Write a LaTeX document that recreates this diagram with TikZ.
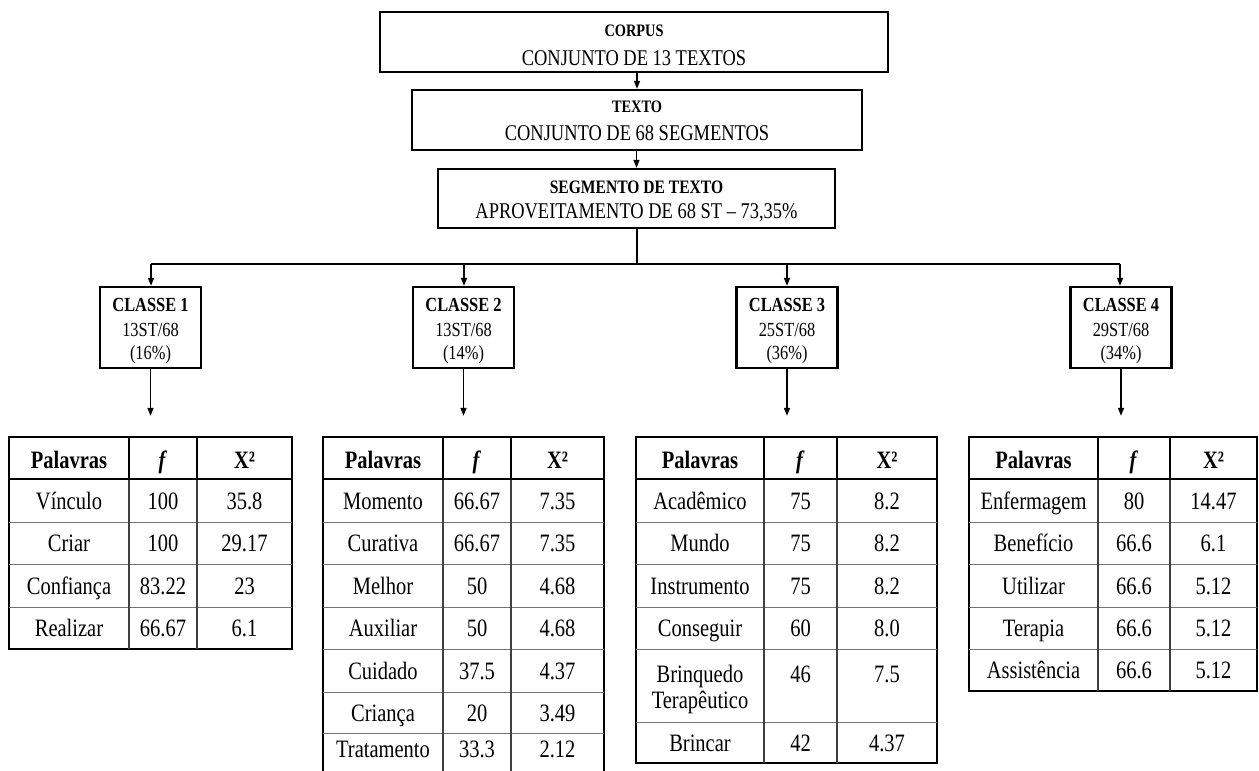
\documentclass[tikz,border=0pt]{standalone}
\usepackage{fontspec}
\setmainfont{Liberation Serif}[FakeStretch=0.82]
\usetikzlibrary{arrows.meta}
\begin{document}
\begin{tikzpicture}[x=1pt,y=-1pt,
  box/.style={draw,line width=2.3pt,inner sep=0pt},
  ttl/.style={anchor=base,inner sep=0pt,font=\fontsize{17.5}{20}\selectfont\bfseries},
  topsub/.style={anchor=base,inner sep=0pt,font=\fontsize{22.5}{26}\selectfont},
  clsttl/.style={anchor=base,inner sep=0pt,font=\fontsize{20}{24}\selectfont\bfseries},
  clsline/.style={anchor=base,inner sep=0pt,font=\fontsize{20}{24}\selectfont},
  cell/.style={anchor=base,inner sep=0pt,font=\fontsize{25}{28}\selectfont},
  hd/.style={anchor=base,inner sep=0pt,font=\fontsize{25}{28}\selectfont\bfseries},
  tab/.style={draw,line width=2.3pt,inner sep=0pt},
  colline/.style={line width=1.2pt,black!75},
  rowline/.style={line width=0.9pt,black!55},
  hdrline/.style={line width=2pt},
  conn/.style={line width=2pt},
  arr/.style={line width=1.5pt,-{Triangle[length=8pt,width=6pt]}},
]
\useasboundingbox (0,0) rectangle (1259,771);
\clip (0,0) rectangle (1259,771);

% ---------- top boxes ----------
\node[box,minimum width=508pt,minimum height=60pt] (corpus) at (634,42) {};
\node[ttl] (corpusA) at (634,36) {CORPUS};
\node[topsub] (corpusB) at (634,65) {CONJUNTO DE 13 TEXTOS};

\node[box,minimum width=450pt,minimum height=60pt] (texto) at (637,120) {};
\node[ttl] (textoA) at (637,112) {TEXTO};
\node[topsub] (textoB) at (637,140) {CONJUNTO DE 68 SEGMENTOS};

\node[box,minimum width=397pt,minimum height=59pt] (seg) at (636.5,198.5) {};
\node[ttl,font=\fontsize{19}{22}\selectfont\bfseries] (segA) at (636.5,193) {SEGMENTO DE TEXTO};
\node[topsub] (segB) at (636.5,218) {APROVEITAMENTO DE 68 ST -- 73,35\%};

\draw[arr] (corpus.south -| texto.north) -- (texto.north);
\draw[arr] (texto.south -| seg.north) -- (seg.north);

% ---------- class boxes ----------
\foreach \cx/\nm/\st/\pc [count=\i] in {150.5/1/13ST\slash 68/16, 463.5/2/13ST\slash 68/14, 787/3/25ST\slash 68/36, 1121/4/29ST\slash 68/34}{
  \node[box,minimum width=101pt,minimum height=81pt] (c\i) at (\cx,327.5) {};
  \node[clsttl] (c\i a) at (\cx,311) {CLASSE \nm};
  \node[clsline] (c\i b) at (\cx,336) {\st};
  \node[clsline] (c\i c) at (\cx,359) {(\pc\%)};
}

\coordinate (hl) at (636.5,264);
\coordinate (j1) at (151,264);
\coordinate (j2) at (464,264);
\coordinate (j3) at (787,264);
\coordinate (j4) at (1120,264);
\draw[conn] (seg.south) -- (hl);
\draw[conn] (j1) -- (j4);
\draw[arr] (j1) -- (j1 |- c1.north);
\draw[arr] (j2) -- (j2 |- c2.north);
\draw[arr] (j3) -- (j3 |- c3.north);
\draw[arr] (j4) -- (j4 |- c4.north);

% ---------- tables ----------
% Table 1
\node[tab,minimum width=283pt,minimum height=212pt] (t1) at (150.5,543) {};
\foreach \yy in {522,564,607} \draw[rowline] (9,\yy) -- (292,\yy);
\draw[colline] (129,437) -- (129,649);
\draw[colline] (197,437) -- (197,649);
\draw[hdrline] (129,437) -- (129,479) (197,437) -- (197,479);
\draw[hdrline] (9,479) -- (292,479);
\node[hd] (t1h1) at (69,468) {Palavras};
\node[hd] (t1h2) at (163,468) {\textit{f}};
\node[hd] (t1h3) at (244.5,468) {X²};
\foreach \pw/\pf/\px/\py [count=\i] in {Vínculo/100/35.8/500.5, Criar/100/29.17/543, Confiança/83.22/23/585.5, Realizar/66.67/6.1/628}{
  \node[cell] (t1w\i) at (69,\py+8.5) {\pw};
  \node[cell] (t1f\i) at (163,\py+8.5) {\pf};
  \node[cell] (t1x\i) at (244.5,\py+8.5) {\px};
}

% Table 2
\node[tab,minimum width=281pt,minimum height=363pt] (t2) at (463.5,618.5) {};
\foreach \yy in {522,564,607,649,692,733} \draw[rowline] (323,\yy) -- (604,\yy);
\draw[colline] (443,437) -- (443,800);
\draw[colline] (511,437) -- (511,800);
\draw[hdrline] (443,437) -- (443,479) (511,437) -- (511,479);
\draw[hdrline] (323,479) -- (604,479);
\node[hd] (t2h1) at (383,468) {Palavras};
\node[hd] (t2h2) at (477,468) {\textit{f}};
\node[hd] (t2h3) at (557.5,468) {X²};
\foreach \pw/\pf/\px/\py [count=\i] in {Momento/66.67/7.35/500.5, Curativa/66.67/7.35/543, Melhor/50/4.68/585.5, Auxiliar/50/4.68/628, Cuidado/37.5/4.37/670.5, Criança/20/3.49/712.5, Tratamento/33.3/2.12/748.5}{
  \node[cell] (t2w\i) at (383,\py+8.5) {\pw};
  \node[cell] (t2f\i) at (477,\py+8.5) {\pf};
  \node[cell] (t2x\i) at (557.5,\py+8.5) {\px};
}

% Table 3
\node[tab,minimum width=301pt,minimum height=326pt] (t3) at (786.5,600) {};
\foreach \yy in {522,564,607,649,722} \draw[rowline] (636,\yy) -- (937,\yy);
\draw[colline] (764,437) -- (764,763);
\draw[colline] (837,437) -- (837,763);
\draw[hdrline] (764,437) -- (764,479) (837,437) -- (837,479);
\draw[hdrline] (636,479) -- (937,479);
\node[hd] (t3h1) at (700,468) {Palavras};
\node[hd] (t3h2) at (800.5,468) {\textit{f}};
\node[hd] (t3h3) at (887,468) {X²};
\foreach \pw/\pf/\px/\py [count=\i] in {Acadêmico/75/8.2/500.5, Mundo/75/8.2/543, Instrumento/75/8.2/585.5, Conseguir/60/8.0/628, Brincar/42/4.37/742.5}{
  \node[cell] (t3w\i) at (700,\py+8.5) {\pw};
  \node[cell] (t3f\i) at (800.5,\py+8.5) {\pf};
  \node[cell] (t3x\i) at (887,\py+8.5) {\px};
}
\node[cell] (t3bw1) at (700,682) {Brinquedo};
\node[cell] (t3bw2) at (700,708) {Terapêutico};
\node[cell] (t3bf) at (800.5,682) {46};
\node[cell] (t3bx) at (887,682) {7.5};

% Table 4
\node[tab,minimum width=288pt,minimum height=254pt] (t4) at (1113,564) {};
\foreach \yy in {522,564,607,649} \draw[rowline] (969,\yy) -- (1257,\yy);
\draw[colline] (1098,437) -- (1098,691);
\draw[colline] (1170,437) -- (1170,691);
\draw[hdrline] (1098,437) -- (1098,479) (1170,437) -- (1170,479);
\draw[hdrline] (969,479) -- (1257,479);
\node[hd] (t4h1) at (1033.5,468) {Palavras};
\node[hd] (t4h2) at (1134,468) {\textit{f}};
\node[hd] (t4h3) at (1213.5,468) {X²};
\foreach \pw/\pf/\px/\py [count=\i] in {Enfermagem/80/14.47/500.5, Benefício/66.6/6.1/543, Utilizar/66.6/5.12/585.5, Terapia/66.6/5.12/628, Assistência/66.6/5.12/670}{
  \node[cell] (t4w\i) at (1033.5,\py+8.5) {\pw};
  \node[cell] (t4f\i) at (1134,\py+8.5) {\pf};
  \node[cell] (t4x\i) at (1213.5,\py+8.5) {\px};
}

% class -> table arrows
\draw[arr] (c1.south) -- ([yshift=20pt]c1.south |- t1.north);
\draw[arr] (c2.south) -- ([yshift=20pt]c2.south |- t2.north);
\draw[arr] (c3.south) -- ([yshift=20pt]c3.south |- t3.north);
\draw[arr] (c4.south) -- ([yshift=20pt]c4.south |- t4.north);
\end{tikzpicture}
\end{document}
